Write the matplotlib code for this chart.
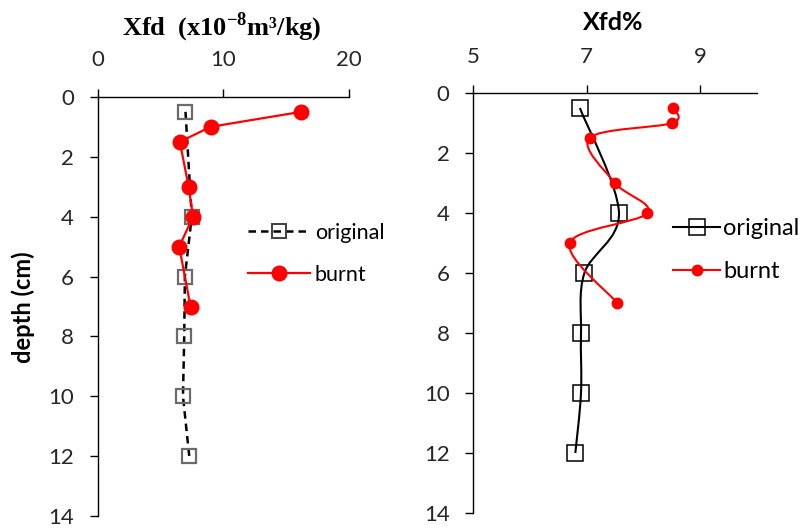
import numpy as np
import matplotlib
matplotlib.use('Agg')
import matplotlib.pyplot as plt
from matplotlib.path import Path
from matplotlib.patches import PathPatch
from matplotlib.lines import Line2D

# data
orig_depth = [0.5, 4, 6, 8, 10, 12]
burnt_depth = [0.5, 1, 1.5, 3, 4, 5, 7]

xfd_orig = [7.0, 7.5, 6.95, 6.9, 6.8, 7.3]
xfd_burnt = [16.2, 9.0, 6.55, 7.25, 7.6, 6.5, 7.4]

pct_orig = [6.88, 7.57, 6.96, 6.9, 6.9, 6.8]
pct_burnt = [8.53, 8.51, 7.05, 7.5, 8.07, 6.7, 7.54]

FONT = 'Lato'
TICK_FS = 16

plt.rcParams['mathtext.fontset'] = 'custom'
plt.rcParams['mathtext.rm'] = 'Liberation Serif'
plt.rcParams['mathtext.bf'] = 'Liberation Serif:bold'


def smooth_path(xs, ys):
    # excel style smoothed line: bezier segments with catmull-rom controls
    pts = np.column_stack([xs, ys]).astype(float)
    n = len(pts)
    verts = [pts[0]]
    codes = [Path.MOVETO]
    for i in range(n - 1):
        p0 = pts[i - 1] if i > 0 else pts[i]
        p1 = pts[i]
        p2 = pts[i + 1]
        p3 = pts[i + 2] if i + 2 < n else pts[i + 1]
        c1 = p1 + (p2 - p0) / 6.0
        c2 = p2 - (p3 - p1) / 6.0
        verts += [c1, c2, p2]
        codes += [Path.CURVE4] * 3
    return Path(verts, codes)


def style_axis(ax, xlim, xticks):
    ax.set_xlim(*xlim)
    ax.set_ylim(14, 0)
    ax.set_xticks(xticks)
    ax.set_yticks(range(0, 15, 2))
    ax.xaxis.tick_top()
    ax.spines['right'].set_visible(False)
    ax.spines['bottom'].set_visible(False)
    for s in ('left', 'top'):
        ax.spines[s].set_linewidth(1.0)
    ax.tick_params(axis='x', direction='out', length=6, width=1.0, pad=13,
                   labelsize=TICK_FS, colors='black')
    ax.tick_params(axis='y', direction='out', length=6, width=1.0, pad=11,
                   labelsize=TICK_FS, colors='black')
    for lab in ax.get_xticklabels() + ax.get_yticklabels():
        lab.set_fontfamily(FONT)
        lab.set_color('#262626')
    ax.set_facecolor('none')


fig = plt.figure(figsize=(8.07, 5.28), dpi=100)

# left panel
ax1 = fig.add_axes([0.121, 0.0225, 0.311, 0.794])
style_axis(ax1, (0, 20), [0, 10, 20])
ax1.plot(xfd_orig, orig_depth, color='black', lw=1.8, ls=(0, (3, 2)), zorder=2)
ax1.plot(xfd_orig, orig_depth, ls='none', marker='s', ms=10, mfc='none',
         mec='#6b6b6b', mew=1.6, zorder=3)
ax1.plot(xfd_burnt, burnt_depth, color='#ff0000', lw=1.6, marker='o', ms=10.5,
         mfc='#ff0000', mec='#ff0000', zorder=4)

h1 = [Line2D([], [], color='black', lw=1.8, ls=(0, (3, 2)), marker='s', ms=10,
             mfc='none', mec='#404040', mew=1.4),
      Line2D([], [], color='#ff0000', lw=1.6, marker='o', ms=10.5,
             mfc='#ff0000', mec='#ff0000')]
fig.legend(h1, ['original', 'burnt'], loc='upper left',
           bbox_to_anchor=(248 / 807, 1 - 223 / 528), frameon=False,
           borderpad=0, borderaxespad=0, handlelength=2.9, handletextpad=0.2,
           labelspacing=1.0, numpoints=1, prop={'family': FONT, 'size': 15.5})

fig.text(222 / 807, 1 - 27 / 528, 'Xfd  (x10$^{\\mathbf{-8}}$m³/kg)',
         ha='center', va='center', fontsize=19, fontweight='bold',
         family=['Liberation Serif', 'DejaVu Serif'])
fig.text(23 / 807, 1 - 307 / 528, 'depth (cm)', ha='center', va='center',
         rotation=90, fontsize=17, fontweight='bold', family=FONT)

# right panel
ax2 = fig.add_axes([0.5865, 0.0284, 0.3512, 0.7955])
style_axis(ax2, (5, 10), [5, 7, 9])
ax2.add_patch(PathPatch(smooth_path(pct_orig, orig_depth), fill=False,
                        edgecolor='black', lw=1.5, zorder=2))
ax2.plot(pct_orig, orig_depth, ls='none', marker='s', ms=12, mfc='none',
         mec='black', mew=1.1, zorder=3)
ax2.add_patch(PathPatch(smooth_path(pct_burnt, burnt_depth), fill=False,
                        edgecolor='#ff0000', lw=1.5, zorder=4))
ax2.plot(pct_burnt, burnt_depth, ls='none', marker='o', ms=7.5,
         mfc='#ff0000', mec='#ff0000', zorder=5)

h2 = [Line2D([], [], color='black', lw=1.5, marker='s', ms=12, mfc='none',
             mec='black', mew=1.1),
      Line2D([], [], color='#ff0000', lw=1.5, marker='o', ms=7.5,
             mfc='#ff0000', mec='#ff0000')]
fig.legend(h2, ['original', 'burnt'], loc='upper left',
           bbox_to_anchor=(673 / 807, 1 - 218 / 528), frameon=False,
           borderpad=0, borderaxespad=0, handlelength=2.0, handletextpad=0.13,
           labelspacing=0.95, numpoints=1, prop={'family': FONT, 'size': 17})

fig.text(613 / 807, 1 - 22 / 528, 'Xfd%', ha='center', va='center',
         fontsize=18, fontweight='bold', family=FONT)

fig.savefig('out.png', dpi=100)
